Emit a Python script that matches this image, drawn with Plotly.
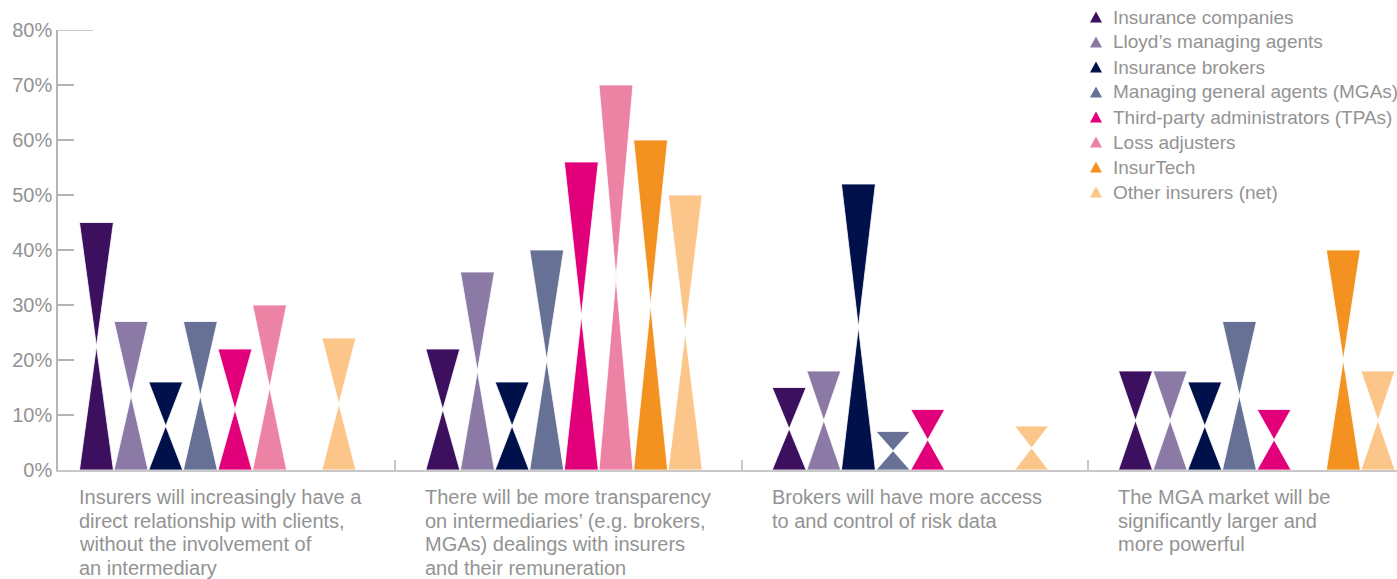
import plotly.graph_objects as go

# Survey statements (x categories), one list of wrapped lines per statement
statements = [
    ["Insurers will increasingly have a", "direct relationship with clients,",
     "without the involvement of", "an intermediary"],
    ["There will be more transparency", "on intermediaries’ (e.g. brokers,",
     "MGAs) dealings with insurers", "and their remuneration"],
    ["Brokers will have more access", "to and control of risk data"],
    ["The MGA market will be", "significantly larger and", "more powerful"],
]

# Respondent groups (series)
groups = [
    "Insurance companies",
    "Lloyd’s managing agents",
    "Insurance brokers",
    "Managing general agents (MGAs)",
    "Third-party administrators (TPAs)",
    "Loss adjusters",
    "InsurTech",
    "Other insurers (net)",
]

# Share of respondents agreeing (%), one list per group, in statement order
insurance_companies = [45, 22, 15, 18]
lloyds_agents = [27, 36, 18, 18]
insurance_brokers = [16, 16, 52, 16]
mgas = [27, 40, 7, 27]
tpas = [22, 56, 11, 11]
loss_adjusters = [30, 70, None, None]
insurtech = [None, 60, None, 40]
other_insurers = [24, 50, 8, 18]

series_values = [
    insurance_companies, lloyds_agents, insurance_brokers, mgas,
    tpas, loss_adjusters, insurtech, other_insurers,
]

colors = ["#3c0f5f", "#8b7aa6", "#00104a", "#677196",
          "#e2007a", "#ec83a5", "#f39221", "#fcc589"]

y_ticks = list(range(0, 81, 10))

# Figure geometry (pixels)
W, H = 1397, 579
M_L, M_R, M_T, M_B = 58, 0, 30, 109
PLOT_W, PLOT_H = W - M_L - M_R, H - M_T - M_B

GROUP_PITCH = 10      # x units between statement groups
HALF_W = 0.49         # half width of each hourglass bar

FONT = "Liberation Sans, Arial, sans-serif"
FONT_SIZE = 20
LEGEND_FONT_SIZE = 19
GREY_TXT = "#939393"
AXIS_COL = "#b4b4b4"

fig = go.Figure()

for si, (name, vals, col) in enumerate(zip(groups, series_values, colors)):
    xs, ys = [], []
    for gi, v in enumerate(vals):
        if not v:
            continue
        xc = gi * GROUP_PITCH + si + 0.5
        x0, x1 = xc - HALF_W, xc + HALF_W
        mid = v / 2
        # lower triangle: base on the axis, apex at half value
        xs += [x0, x1, xc, x0, None]
        ys += [0, 0, mid, 0, None]
        # upper triangle: top edge at the value, apex at half value
        xs += [x0, x1, xc, x0, None]
        ys += [v, v, mid, v, None]
    fig.add_trace(go.Scatter(
        x=xs, y=ys, mode="lines", fill="toself", fillcolor=col,
        line=dict(color="white", width=0.8),
        name=name, hoverinfo="skip", showlegend=False,
    ))

# Statement captions below the axis, one annotation per line
LINE_STEP = 23.6
for gi, lines in enumerate(statements):
    for li, line in enumerate(lines):
        fig.add_annotation(
            x=gi * GROUP_PITCH, y=0, xref="x", yref="y",
            xanchor="left", yanchor="middle",
            xshift=-2, yshift=-(27 + LINE_STEP * li),
            text=line, showarrow=False, align="left",
            font=dict(family=FONT, size=FONT_SIZE, color=GREY_TXT),
        )


def px_to_paper_x(px):
    return (px - M_L) / PLOT_W


def px_to_paper_y(py):
    return (H - M_B - py) / PLOT_H


# Legend in the top-right corner: triangle swatch + label per group
LEG_ROW0, LEG_STEP = 17, 25
LEG_SYM_X, LEG_TXT_X = 1096, 1111
TRI_W, TRI_H = 12, 11
for i, (name, col) in enumerate(zip(groups, colors)):
    cy = LEG_ROW0 + LEG_STEP * i
    xl, xr = px_to_paper_x(LEG_SYM_X - TRI_W / 2), px_to_paper_x(LEG_SYM_X + TRI_W / 2)
    xm = px_to_paper_x(LEG_SYM_X)
    yb, yt = px_to_paper_y(cy + TRI_H / 2), px_to_paper_y(cy - TRI_H / 2)
    fig.add_shape(
        type="path", xref="paper", yref="paper",
        path=f"M {xl} {yb} L {xr} {yb} L {xm} {yt} Z",
        fillcolor=col, line=dict(width=0),
    )
    fig.add_annotation(
        x=px_to_paper_x(LEG_TXT_X), y=px_to_paper_y(cy),
        xref="paper", yref="paper", xanchor="left", yanchor="middle",
        text=name, showarrow=False,
        font=dict(family=FONT, size=LEGEND_FONT_SIZE, color=GREY_TXT),
    )

# longer tick at the top of the value axis
fig.add_shape(type="line", xref="paper", yref="y",
              x0=0, x1=35 / PLOT_W, y0=80, y1=80,
              line=dict(color=AXIS_COL, width=1.5))

fig.update_layout(
    width=W, height=H,
    margin=dict(l=M_L, r=M_R, t=M_T, b=M_B, autoexpand=False),
    paper_bgcolor="white", plot_bgcolor="white",
    font=dict(family=FONT, size=FONT_SIZE, color=GREY_TXT),
    showlegend=False,
    xaxis=dict(
        range=[-0.61, 38.05], showgrid=False, zeroline=False,
        showline=True, linecolor="#c8c8c8", linewidth=2,
        ticks="inside", tickvals=[9.12, 19.13, 29.12], ticklen=10,
        tickcolor="#c8c8c8", tickwidth=1.5, showticklabels=False,
    ),
    yaxis=dict(
        range=[0, 80], showgrid=False, zeroline=False,
        showline=True, linecolor=AXIS_COL, linewidth=1.5,
        ticks="inside", tickvals=y_ticks,
        ticktext=[f"{t}%" for t in y_ticks], ticklen=16,
        tickcolor=AXIS_COL, tickwidth=1.5,
        tickfont=dict(family=FONT, size=FONT_SIZE, color=GREY_TXT),
    ),
)

fig.write_html("out.html")
